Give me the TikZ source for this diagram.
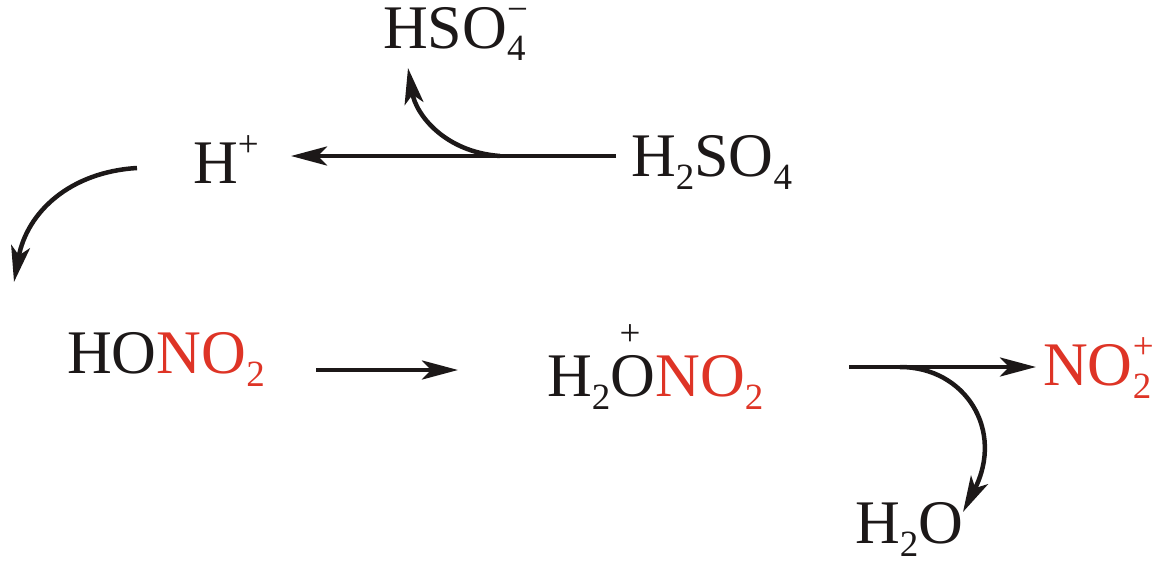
\documentclass[tikz,border=0pt]{standalone}
\usepackage{fontspec}
\setmainfont{Liberation Serif}
\usetikzlibrary{arrows.meta, positioning}
\definecolor{nitrored}{RGB}{222,52,38}
\definecolor{inkblack}{RGB}{28,24,24}
\newcommand{\nitro}[1]{\textcolor{nitrored}{#1}}
\newcommand{\lowered}[1]{\raisebox{-13pt}{\fontsize{37}{37}\selectfont #1}}
\newcommand{\raised}[1]{\raisebox{27pt}{\fontsize{37}{37}\selectfont #1}}
\newcommand{\both}[2]{\rlap{\lowered{#1}}\raised{#2}}
\tikzset{
	chem/.style={inner sep=0pt, text=inkblack, font=\fontsize{62}{62}\selectfont, anchor=base west},
	charge/.style={inner sep=0pt, text=inkblack, font=\fontsize{37}{37}\selectfont},
	rxn/.style={draw=inkblack, line width=4.5pt, -{Stealth[length=36pt, width=19pt, inset=9pt]}},
}

\begin{document}
\begin{tikzpicture}[x=1pt, y=-1pt]
	\useasboundingbox (0,0) rectangle (1164,562);
	\node[chem] (bisulfate) at (383,48) {HSO\both{4}{−}};
	\node[chem] (proton) at (193,183) {H\raised{+}};
	\node[chem] (sulfuric) at (631,176) {H\lowered{2}SO\lowered{4}};
	\node[chem] (nitric) at (67,373) {HO\nitro{NO\lowered{2}}};
	\node[chem] (protonated) at (547,396) {H\lowered{2}O\nitro{NO\lowered{2}}};
	\node[charge] (oxplus) at (630,335) {+};
	\node[chem, text=nitrored] (nitronium) at (1043,385) {NO\both{2}{+}};
	\node[chem] (water) at (855,543) {H\lowered{2}O};
	\coordinate (splitS) at (500,156);
	\coordinate (splitN) at (900,367);
	% straight arrows
	\draw[rxn] ([shift={(-15,-20)}]sulfuric.base west) -- ([shift={(98,-27)}]proton.base west);
	\draw[rxn] ([shift={(249,-3)}]nitric.base west) -- ([shift={(391,-3)}]nitric.base west);
	\draw[rxn] ([shift={(302,-29)}]protonated.base west) -- ([shift={(-7,-18)}]nitronium.base west);
	% curved arrows
	\draw[rxn] (splitS) .. controls (445,152) and (416,115) .. ([shift={(25,20)}]bisulfate.base west);
	\draw[rxn] ([shift={(-56,-15)}]proton.base west) .. controls (70,172) and (27,212) .. (14,282);
	\draw[rxn] (splitN) .. controls (965,367) and (1005,430) .. ([shift={(108,-31)}]water.base west);
\end{tikzpicture}
\end{document}
